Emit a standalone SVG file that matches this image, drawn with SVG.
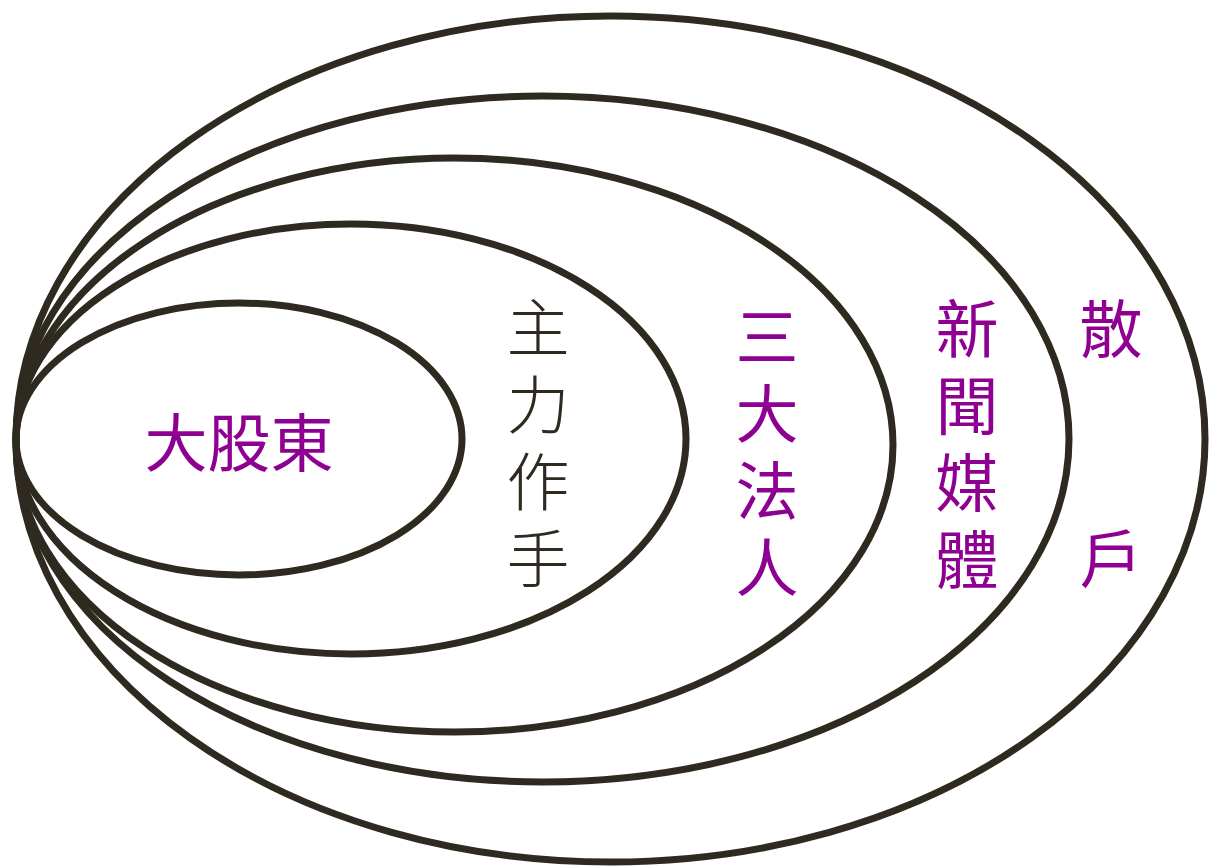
<svg xmlns="http://www.w3.org/2000/svg" width="1210" height="866" viewBox="0 0 1210 866">
<style>
.ring{fill:none;stroke:#2e2a20;stroke-width:7}
.p{fill:#8e0091;font-family:"Noto Sans CJK TC","Noto Sans CJK SC",sans-serif;font-size:63px}
.g{fill:#2e2a20;font-family:"Noto Sans CJK TC","Noto Sans CJK SC",sans-serif;font-size:63px;font-weight:300}
.v{writing-mode:vertical-rl;letter-spacing:14px}
.m{text-anchor:middle}
</style>
<rect width="1210" height="866" fill="#ffffff"/>
<g id="ring-sanhu"><ellipse class="ring" cx="610.5" cy="439" rx="594.5" ry="423"/></g>
<g id="ring-media"><ellipse class="ring" cx="542.5" cy="439" rx="526.5" ry="343"/></g>
<g id="ring-institutions"><ellipse class="ring" cx="454.5" cy="445" rx="438.5" ry="287"/></g>
<g id="ring-operators"><ellipse class="ring" cx="351" cy="439" rx="335" ry="215"/></g>
<g id="ring-major"><ellipse class="ring" cx="239" cy="439" rx="223" ry="136"/></g>
<g id="label-major"><text class="p m" x="239" y="466" font-size="64">大股東</text></g>
<g id="label-operators"><text class="g v" x="538" y="296">主力作手</text></g>
<g id="label-institutions"><text class="p v" x="767" y="305">三大法人</text></g>
<g id="label-media"><text class="p v" x="967" y="297">新聞媒體</text></g>
<g id="label-retail">
<text class="p m" x="1111" y="352">散</text>
<text class="p m" x="1111" y="582">戶</text>
</g>
</svg>
